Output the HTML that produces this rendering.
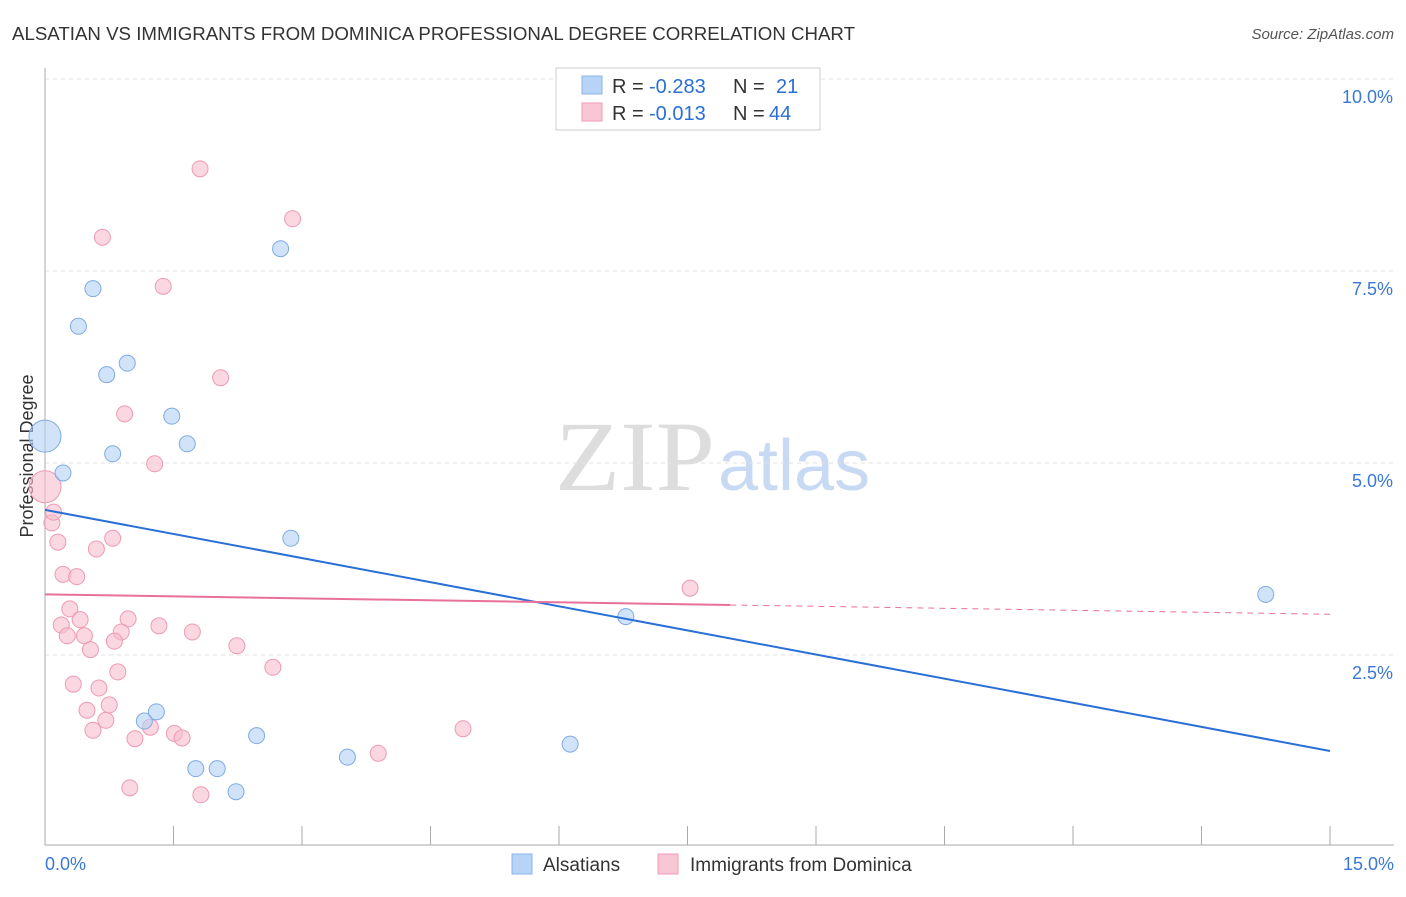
<!DOCTYPE html>
<html><head><meta charset="utf-8"><style>
body{margin:0;background:#fff;font-family:"Liberation Sans",sans-serif;}
</style></head><body>
<svg width="1406" height="892" xmlns="http://www.w3.org/2000/svg" id="svg">
<text x="12" y="40" font-size="18" fill="#333" textLength="843" lengthAdjust="spacingAndGlyphs">ALSATIAN VS IMMIGRANTS FROM DOMINICA PROFESSIONAL DEGREE CORRELATION CHART</text>
<text x="1394" y="39" font-size="15" fill="#555" font-style="italic" text-anchor="end">Source: ZipAtlas.com</text>
<text x="555" y="490" font-size="100" fill="#ddd" textLength="160" lengthAdjust="spacingAndGlyphs" font-family="Liberation Serif,serif">ZIP</text>
<text x="718" y="490" font-size="72" fill="#c8daf3">atlas</text>
<text x="33" y="456" font-size="18" fill="#333" text-anchor="middle" transform="rotate(-90 33 456)">Professional Degree</text>
<g id="grid"></g><g id="marks"></g>
<g>
<rect x="556" y="68" width="264" height="62" fill="#fff" stroke="#ccc"/>
<rect x="582" y="76" width="20" height="18" fill="#b7d3f5" stroke="#8ab4e8"/>
<rect x="582" y="103" width="20" height="18" fill="#f9c6d5" stroke="#f09bb5"/>
<text x="612" y="93" font-size="20" fill="#333">R =</text>
<text x="649" y="93" font-size="20" fill="#2a6fd6">-0.283</text>
<text x="733" y="93" font-size="20" fill="#333">N =</text>
<text x="776" y="93" font-size="20" fill="#2a6fd6">21</text>
<text x="612" y="120" font-size="20" fill="#333">R =</text>
<text x="649" y="120" font-size="20" fill="#2a6fd6">-0.013</text>
<text x="733" y="120" font-size="20" fill="#333">N =</text>
<text x="769" y="120" font-size="20" fill="#2a6fd6">44</text>
</g>
<g>
<rect x="512" y="854" width="20" height="20" fill="#b7d3f5" stroke="#8ab4e8"/>
<text x="543" y="871" font-size="19" fill="#333">Alsatians</text>
<rect x="658" y="854" width="20" height="20" fill="#f9c6d5" stroke="#f09bb5"/>
<text x="690" y="871" font-size="19" fill="#333">Immigrants from Dominica</text>
</g>
</svg>
<script>
const blueX=[0,0.21,0.56,0.39,0.72,0.96,0.79,1.48,1.66,2.75,2.87,1.16,1.30,1.76,2.01,2.23,2.47,3.53,6.13,6.78,14.25];
const blueY=[5.35,4.87,7.27,6.78,6.15,6.30,5.12,5.61,5.25,7.79,4.02,1.64,1.76,1.02,1.02,0.72,1.45,1.17,1.34,3.00,3.29];
const pinkX=[0,0.08,0.1,0.15,0.21,0.37,0.29,0.19,0.41,0.26,0.46,0.53,0.33,0.63,0.49,0.56,0.71,0.75,0.60,0.79,0.67,0.93,0.97,0.89,0.81,0.85,1.05,0.99,1.23,1.28,1.33,1.38,1.51,1.60,1.72,1.81,1.82,2.05,2.24,2.66,2.89,3.89,4.88,7.53];
const pinkY=[4.69,4.22,4.36,3.97,3.55,3.52,3.10,2.89,2.96,2.75,2.75,2.57,2.12,2.07,1.78,1.52,1.65,1.85,3.88,4.02,7.94,5.64,2.97,2.80,2.68,2.28,1.41,0.77,1.56,4.99,2.88,7.30,1.48,1.42,2.80,8.83,0.68,6.11,2.62,2.34,8.18,1.22,1.54,3.37];
const blueTrend=[4.39,1.25];
const pinkTrend=[3.29,3.03];
const pinkSolidEnd=8.0;
const yTicks=[2.5,5.0,7.5,10.0];
const yTickLabels=["2.5%","5.0%","7.5%","10.0%"];
const xTicks=[0,1.5,3,4.5,6,7.5,9,10.5,12,13.5,15];
const ns="http://www.w3.org/2000/svg";
const sx=v=>45+v*85.667, sy=v=>847-v*76.8;
function mk(tag,attrs,parent){const e=document.createElementNS(ns,tag);for(const k in attrs)e.setAttribute(k,attrs[k]);parent.appendChild(e);return e;}
const grid=document.getElementById('grid'), marks=document.getElementById('marks');
yTicks.forEach((t,i)=>{
 const l=mk('line',{x1:45,x2:1394,y1:sy(t),y2:sy(t),stroke:'#e2e2e2','stroke-dasharray':'4,4'},grid);
 
 
 const tx=mk('text',{x:1393,y:sy(t)+24,'font-size':18,fill:'#3a78d8','text-anchor':'end'},grid);
 tx.textContent=yTickLabels[i];
 
 
});
const ax=mk('line',{x1:45,x2:45,y1:68,y2:845,stroke:'#aaa'},grid);


const bx=mk('line',{x1:45,x2:1394,y1:845,y2:845,stroke:'#aaa'},grid);


xTicks.forEach(t=>{const l=mk('line',{x1:sx(t),x2:sx(t),y1:826,y2:845,stroke:'#aaa'},grid);
 
 });
[[0,"0.0%","start",45],[15,"15.0%","end",1394]].forEach(a=>{const t=mk('text',{x:a[3],y:870,'font-size':18,fill:'#3a78d8','text-anchor':a[2]},grid);t.textContent=a[1];
 
 });
function dots(X,Y,fill,stroke,name){X.forEach((x,i)=>{const r=(x===0)?16:8;
 const c=mk('circle',{cx:sx(x),cy:sy(Y[i]),r:r,fill:fill,'fill-opacity':0.6,stroke:stroke,'stroke-width':1},marks);
 
 });}
dots(pinkX,pinkY,'#f7bccd','#ee9ab3','dominica-point');
dots(blueX,blueY,'#b3d0f4','#7fabe3','alsatian-point');
const bl=mk('line',{x1:sx(0),y1:sy(blueTrend[0]),x2:sx(15),y2:sy(blueTrend[1]),stroke:'#2a6fd6','stroke-width':2},marks);


const py=x=>pinkTrend[0]+(pinkTrend[1]-pinkTrend[0])*x/15;
const pl=mk('line',{x1:sx(0),y1:sy(py(0)),x2:sx(pinkSolidEnd),y2:sy(py(pinkSolidEnd)),stroke:'#e8719a','stroke-width':2},marks);


const pd=mk('line',{x1:sx(pinkSolidEnd),y1:sy(py(pinkSolidEnd)),x2:sx(15),y2:sy(py(15)),stroke:'#e8719a','stroke-width':1,'stroke-dasharray':'6,5'},marks);


</script>
</body></html>
